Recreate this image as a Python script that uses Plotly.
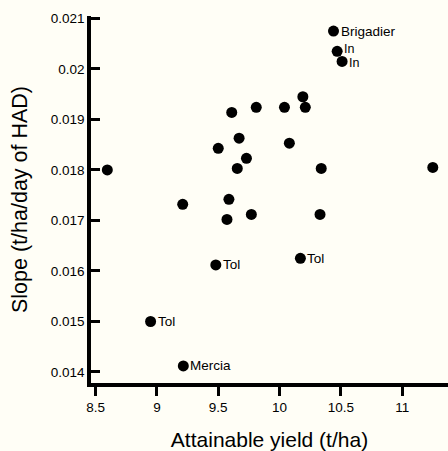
import plotly.graph_objects as go

# Attainable yield (t/ha)
yield_x = [10.44, 10.47, 10.51, 10.19, 10.21, 10.04, 9.81, 9.61, 9.67, 10.08,
           9.50, 9.73, 9.655, 10.34, 11.25, 8.595, 9.21, 9.587, 9.571, 9.77,
           10.33, 9.48, 10.17, 8.948, 9.215]
# Slope (t/ha/day of HAD)
slope_y = [0.02075, 0.02035, 0.02015, 0.01945, 0.01924, 0.01924, 0.01924, 0.01914, 0.01863, 0.01853,
           0.01843, 0.01823, 0.01803, 0.01803, 0.01805, 0.01800, 0.01732, 0.01742, 0.01702, 0.01712,
           0.01712, 0.01612, 0.01625, 0.01500, 0.01412]
point_labels = ["Brigadier", "In", "In", "", "", "", "", "", "", "",
                "", "", "", "", "", "", "", "", "", "",
                "", "Tol", "Tol", "Tol", "Mercia"]

x_tickvals = [8.5, 9, 9.5, 10, 10.5, 11]
x_ticktext = ["8.5", "9", "9.5", "10", "10.5", "11"]
y_tickvals = [0.014, 0.015, 0.016, 0.017, 0.018, 0.019, 0.020, 0.021]
y_ticktext = ["0.014", "0.015", "0.016", "0.017", "0.018", "0.019", "0.02", "0.021"]

FONT = "Liberation Sans, Arial, Helvetica, sans-serif"
BG = "#fffef6"

fig = go.Figure()
fig.add_trace(go.Scatter(
    x=yield_x, y=slope_y, mode="markers",
    marker=dict(size=11, color="#000000"),
    cliponaxis=False, showlegend=False,
))

# the two close "In" labels are set slightly apart so they do not collide
labelled = [i for i, lab in enumerate(point_labels) if lab]
for i in labelled:
    lab = point_labels[i]
    ysh = 0
    fsize = 13.5
    if lab == "In":
        fsize = 12.5
        others = [j for j in labelled if j != i and point_labels[j] == "In"]
        if others:
            ysh = 2 if slope_y[i] > slope_y[others[0]] else -2
    fig.add_annotation(
        x=yield_x[i], y=slope_y[i], text=lab, showarrow=False,
        xanchor="left", yanchor="middle", xshift=6, yshift=ysh,
        borderpad=0,
        font=dict(family=FONT, size=fsize, color="#000000"),
    )

fig.update_layout(
    width=448, height=451,
    margin=dict(l=91, r=0, t=16, b=68),
    paper_bgcolor=BG, plot_bgcolor=BG,
    font=dict(family=FONT, color="#000000"),
    xaxis=dict(
        range=[8.462, 11.374], showgrid=False, zeroline=False,
        showline=True, linecolor="#000000", linewidth=3.5,
        ticks="outside", ticklen=9, tickwidth=3, tickcolor="#000000",
        tickvals=x_tickvals, ticktext=x_ticktext,
        tickfont=dict(family=FONT, size=13.5, color="#000000"),
        title=dict(text="Attainable yield (t/ha)", font=dict(family=FONT, size=21, color="#000000"), standoff=20),
    ),
    yaxis=dict(
        range=[0.013782, 0.021049], showgrid=False, zeroline=False,
        showline=True, linecolor="#000000", linewidth=3.5,
        ticks="inside", ticklen=9, tickwidth=3, tickcolor="#000000",
        tickvals=y_tickvals, ticktext=y_ticktext,
        tickfont=dict(family=FONT, size=13.5, color="#000000"),
        title=dict(text="Slope (t/ha/day of HAD)", font=dict(family=FONT, size=21.5, color="#000000"), standoff=18),
    ),
)

fig.write_html("out.html")
